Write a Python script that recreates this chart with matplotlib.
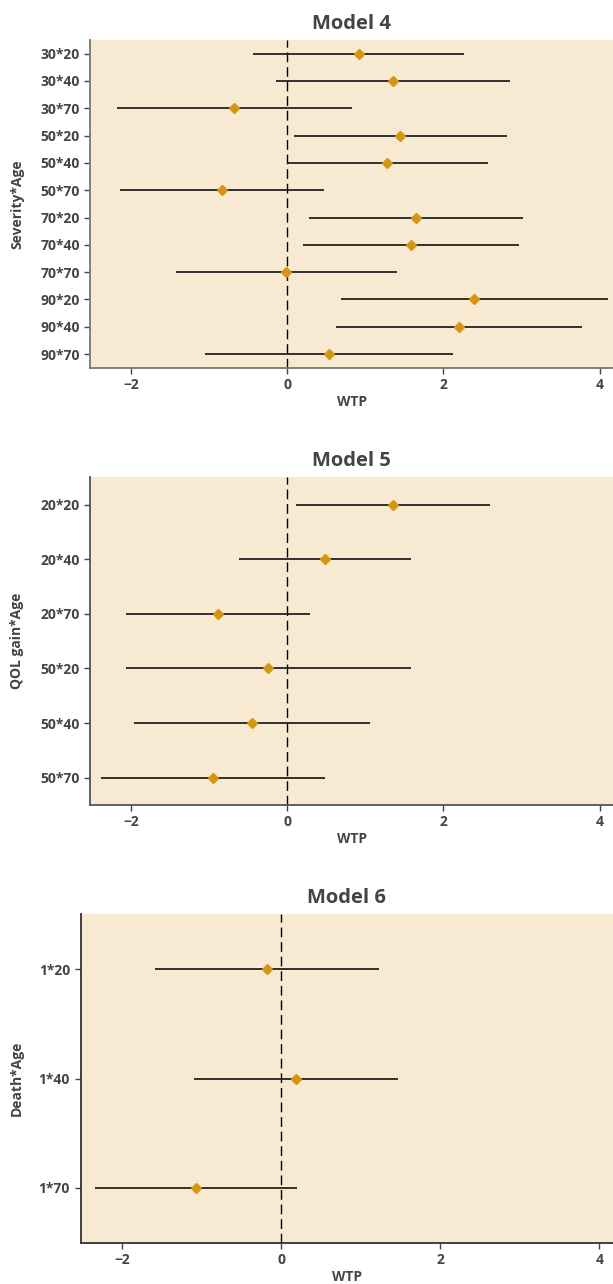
import matplotlib
matplotlib.use("Agg")
import matplotlib.pyplot as plt

plt.rcParams['font.family'] = ['Open Sans', 'DejaVu Sans']

# Model 4: Severity*Age
sev_labels = ['30*20', '30*40', '30*70', '50*20', '50*40', '50*70',
              '70*20', '70*40', '70*70', '90*20', '90*40', '90*70']
sev_est = [0.915, 1.355, -0.675, 1.45, 1.28, -0.83, 1.65, 1.58, -0.015, 2.39, 2.2, 0.54]
sev_lo = [-0.435, -0.145, -2.18, 0.09, -0.005, -2.135, 0.28, 0.2, -1.425, 0.685, 0.625, -1.05]
sev_hi = [2.265, 2.855, 0.83, 2.815, 2.57, 0.475, 3.02, 2.965, 1.4, 4.1, 3.775, 2.125]

# Model 5: QOL gain*Age
qol_labels = ['20*20', '20*40', '20*70', '50*20', '50*40', '50*70']
qol_est = [1.355, 0.48, -0.885, -0.24, -0.45, -0.95]
qol_lo = [0.115, -0.62, -2.06, -2.065, -1.955, -2.385]
qol_hi = [2.6, 1.59, 0.29, 1.59, 1.06, 0.49]

# Model 6: Death*Age
death_labels = ['1*20', '1*40', '1*70']
death_est = [-0.181, 0.191, -1.069]
death_lo = [-1.583, -1.088, -2.338]
death_hi = [1.225, 1.475, 0.201]

BG = '#F7E9D2'
TXT = '#444444'
PT = '#D4960F'

W, H = 613, 1284
fig = plt.figure(figsize=(W / 100, H / 100), dpi=100)


def panel(rect_px, title, ylabel, labels, est, lo, hi, spine_col):
    left, top, right, bottom = rect_px
    ax = fig.add_axes([left / W, 1 - bottom / H, (right - left) / W, (bottom - top) / H])
    ax.set_facecolor(BG)
    ys = list(range(len(labels)))
    ax.hlines(ys, lo, hi, color='#222222', lw=1.3, zorder=2)
    ax.axvline(0, color='black', lw=1, ls=(0, (7, 3.5)), zorder=1)
    ax.plot(est, ys, ls='none', marker='D', ms=5.5, color=PT, zorder=3)
    ax.set_xlim(-2.52, 4.17)
    ax.set_ylim(len(labels) - 0.5, -0.5)
    ax.set_yticks(ys)
    ax.set_yticklabels(labels)
    ax.set_xticks([-2, 0, 2, 4])
    ax.set_xticklabels(['\u22122', '0', '2', '4'])
    for s in ['top', 'right']:
        ax.spines[s].set_visible(False)
    for s in ['left', 'bottom']:
        ax.spines[s].set_color(spine_col)
        ax.spines[s].set_linewidth(1.3)
    ax.tick_params(colors=TXT, labelsize=10, length=4, width=1)
    for lab in ax.get_xticklabels() + ax.get_yticklabels():
        lab.set_fontweight('bold')
    ax.set_title(title, fontsize=14.5, color=TXT, fontweight='bold', pad=8)
    ax.set_xlabel('WTP', fontsize=10, color=TXT, fontweight='bold', labelpad=2)
    ax.set_ylabel(ylabel, fontsize=10, color=TXT, fontweight='bold')
    ax.yaxis.set_label_coords((24 - left) / (right - left), 0.5)
    return ax


panel((90.3, 40, 613, 367.7), 'Model 4', 'Severity*Age', sev_labels, sev_est, sev_lo, sev_hi, '#777777')
panel((90.3, 477.3, 613, 805), 'Model 5', 'QOL gain*Age', qol_labels, qol_est, qol_lo, qol_hi, '#555555')
panel((80.5, 914.3, 613, 1242.7), 'Model 6', 'Death*Age', death_labels, death_est, death_lo, death_hi, '#333333')

fig.savefig('out.png', dpi=100)
